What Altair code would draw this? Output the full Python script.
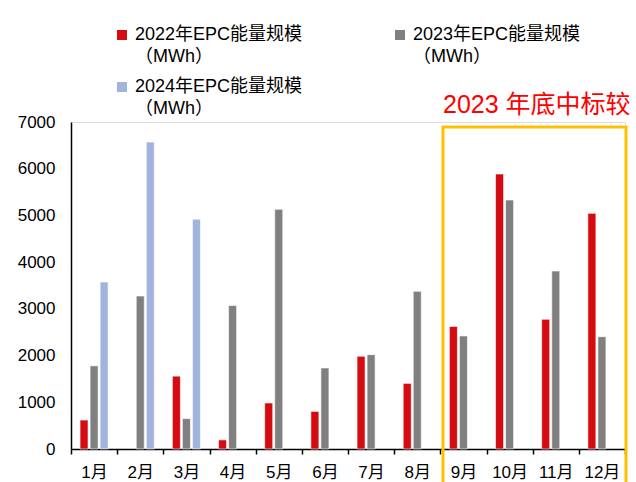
import altair as alt
import pandas as pd

months = ["1月", "2月", "3月", "4月", "5月", "6月", "7月", "8月", "9月", "10月", "11月", "12月"]
series = ["2022年EPC能量规模|（MWh）", "2023年EPC能量规模|（MWh）", "2024年EPC能量规模|（MWh）"]
colors = ["#D50B12", "#808080", "#A2B4DC"]
v2022 = [620, None, 1560, 195, 985, 805, 1985, 1405, 2625, 5887, 2777, 5045]
v2023 = [1780, 3275, 650, 3070, 5130, 1735, 2020, 3375, 2420, 5330, 3810, 2405]
v2024 = [3575, 6570, 4920, None, None, None, None, None, None, None, None, None]
y_ticks = [0, 1000, 2000, 3000, 4000, 5000, 6000, 7000]
note = "2023 年底中标较"

rows = []
for s, vals in zip(series, [v2022, v2023, v2024]):
    for m, v in zip(months, vals):
        if v is not None:
            rows.append({"month": m, "series": s, "value": v})
df = pd.DataFrame(rows)

# legend fills column-major, so order the colour domain to read row-wise
legend_order = [series[0], series[2], series[1]]
legend_colors = [colors[0], colors[2], colors[1]]

FONT = "Liberation Sans, Noto Sans CJK SC"

bars = alt.Chart(df).mark_bar(stroke="white", strokeWidth=0.6).encode(
    x=alt.X("month:N", sort=months, title=None,
            scale=alt.Scale(paddingInner=0, paddingOuter=0),
            axis=alt.Axis(labelAngle=0, domainColor="black", domainWidth=1.5,
                          tickColor="black", tickWidth=1.5, tickSize=5,
                          tickBand="extent", labelFontSize=17, labelColor="black",
                          labelPadding=10, labelFont=FONT)),
    xOffset=alt.XOffset("series:N", sort=series,
                        scale=alt.Scale(domain=series, paddingInner=0.2, paddingOuter=0.9)),
    y=alt.Y("value:Q", title=None,
            scale=alt.Scale(domain=[0, 7000], nice=False),
            axis=alt.Axis(values=y_ticks, format="d", grid=False, ticks=False, domainColor="black",
                          domainWidth=1.5, labelFontSize=17, labelColor="black",
                          labelPadding=16, labelFont=FONT)),
    color=alt.Color("series:N",
                    scale=alt.Scale(domain=legend_order, range=legend_colors),
                    legend=alt.Legend(title=None, orient="none", legendX=42, legendY=-96,
                                      columns=2, columnPadding=88, rowPadding=12,
                                      symbolType="square", symbolSize=100,
                                      symbolStrokeWidth=0,
                                      labelFontSize=18, labelFont=FONT, labelColor="black",
                                      labelExpr="split(datum.label, '|')",
                                      labelLimit=300, labelOffset=4)),
)

box = alt.Chart(pd.DataFrame({"a": [0]})).mark_rect(
    fill=None, stroke="#FFC000", strokeWidth=3, clip=False
).encode(x=alt.value(372), x2=alt.value(555), y=alt.value(5), y2=alt.value(370))

label = alt.Chart(pd.DataFrame({"t": [note]})).mark_text(
    color="#FF0000", fontSize=25, font=FONT, align="left", baseline="alphabetic"
).encode(text="t:N", x=alt.value(372), y=alt.value(-9))

chart = alt.layer(bars, box, label).properties(
    width=554, height=327,
    autosize=alt.AutoSizeParams(type="none"),
    padding={"left": 71, "top": 122, "right": 11, "bottom": 33},
).configure_view(stroke=None).configure(
    background="white",
    style={"guide-label": {"lineHeight": 22}},
)

chart.save("out.html", embed_options={"renderer": "svg", "actions": False})
